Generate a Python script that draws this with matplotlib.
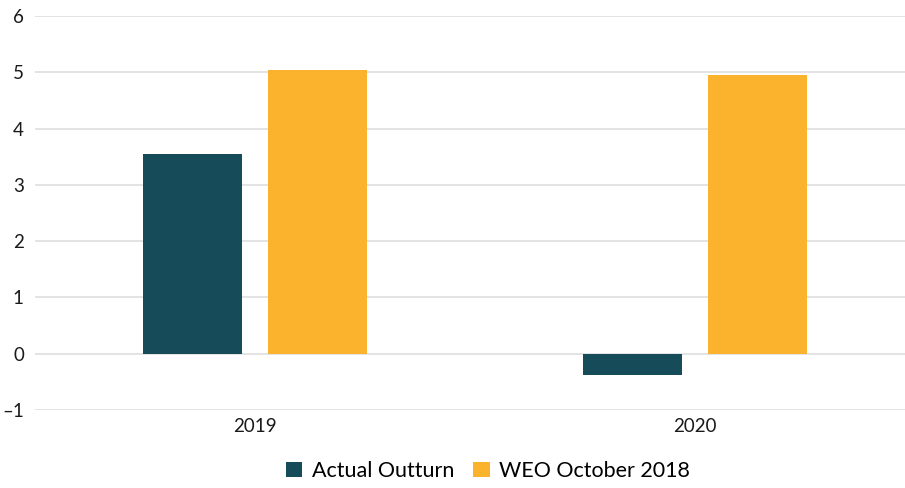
import matplotlib.pyplot as plt
import numpy as np

# Data
years = ['2019', '2020']
actual = [3.55, -0.37]
weo = [5.04, 4.95]

teal = '#164b5a'
yellow = '#fbb32e'

plt.rcParams['font.family'] = ['Lato', 'DejaVu Sans']

fig = plt.figure(figsize=(9.05, 4.88), dpi=100)
ax = fig.add_axes([35/905, 1-410/488, 870/905, (410-16)/488])

x = np.arange(len(years))
w = 0.225
off = 0.142
ax.bar(x - off, actual, w, color=teal, label='Actual Outturn', zorder=3)
ax.bar(x + off, weo, w, color=yellow, label='WEO October 2018', zorder=3)

ax.set_ylim(-1, 6)
ax.set_yticks(range(-1, 7))
ax.set_yticklabels(['\u20131'] + [str(i) for i in range(0, 7)])
ax.set_xlim(-0.5, 1.477)
ax.set_xticks(x)
ax.set_xticklabels(years)

ax.grid(axis='y', color='#e0e0e0', linewidth=1.3, zorder=0)
for s in ax.spines.values():
    s.set_visible(False)
ax.tick_params(axis='both', length=0, labelsize=13.5, colors='#1a1a1a')
ax.tick_params(axis='y', pad=8)
ax.tick_params(axis='x', pad=6)

fig.legend(loc='center', bbox_to_anchor=(488/905, 1-471/488), ncol=2, frameon=False,
           fontsize=15.5, handlelength=0.75, handleheight=0.75, handletextpad=0.45,
           columnspacing=0.9)

fig.savefig('out.png', dpi=100)
